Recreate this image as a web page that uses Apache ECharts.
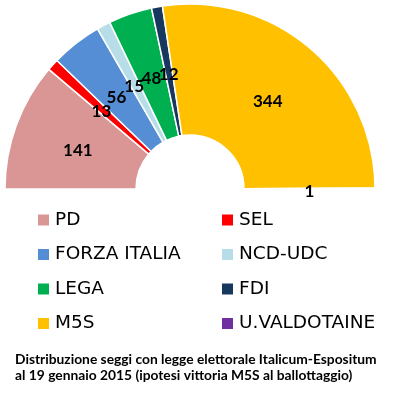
<!DOCTYPE html>
<html><head><meta charset="utf-8">
<script src="https://cdn.jsdelivr.net/npm/echarts@6/dist/echarts.min.js"></script>
<style>html,body{margin:0;padding:0;background:#fff}#c{width:402px;height:398px}</style>
</head><body><div id="c"></div>
<script>
var parties = ['PD','SEL','FORZA ITALIA','NCD-UDC','LEGA','FDI','M5S','U.VALDOTAINE'];
var seats = [141,13,56,15,48,12,344,1];
var colors = ['#D99694','#FF0000','#558ED5','#B7DEE8','#00B050','#17375E','#FFC000','#7030A0'];
var legendLeft = ['PD','FORZA ITALIA','LEGA','M5S'];
var legendRight = ['SEL','NCD-UDC','FDI','U.VALDOTAINE'];
var titleText = 'Distribuzione seggi con legge elettorale Italicum-Espositum\nal 19 gennaio 2015 (ipotesi vittoria M5S al ballottaggio)';

var total = seats.reduce(function(a,b){return a+b;},0);
var labelPts = [], acc = 0;
seats.forEach(function(v){ labelPts.push([0.5, acc + v/2, v]); acc += v; });

var chart = echarts.init(document.getElementById('c'), null, {renderer:'canvas'});
var legendText = {fontFamily:'DejaVu Sans', fontSize:18.5, color:'#000', lineHeight:20};
chart.setOption({
  animation:false,
  color: colors,
  title: {
    text: titleText, left: 10, top: 347,
    textStyle: {fontFamily:'Lato', fontWeight:'bold', fontSize:13.8, color:'#000', lineHeight:16}
  },
  legend: [
    {data: legendLeft, orient:'vertical', left: 31, top: 205, icon:'rect', itemWidth:13, itemHeight:13, itemGap:14.5, textStyle: legendText, selectedMode:false},
    {data: legendRight, orient:'vertical', left: 215, top: 205, icon:'rect', itemWidth:13, itemHeight:13, itemGap:14.5, textStyle: legendText, selectedMode:false}
  ],
  polar: {center:[190,189], radius:[54,185]},
  angleAxis: {type:'value', min:0, max: total*2, startAngle:180, clockwise:true, show:false},
  radiusAxis: {type:'value', min:0, max:1, show:false},
  series: [{
    type:'pie',
    center:[190,189],
    radius:[54,185],
    startAngle:180,
    endAngle:0,
    clockwise:true,
    silent:true,
    itemStyle:{borderColor:'#fff', borderWidth:1.5},
    label:{show:false},
    labelLine:{show:false},
    data: parties.map(function(p,i){return {name:p, value:seats[i]};})
  },{
    type:'scatter',
    coordinateSystem:'polar',
    silent:true,
    symbolSize:0,
    itemStyle:{color:'#000', opacity:0},
    data: labelPts,
    label:{show:true, position:'inside', offset:[0,3], formatter:function(p){return p.value[2];}, color:'#000', textBorderWidth:0, textBorderColor:'transparent', opacity:1, fontFamily:'Lato', fontWeight:'bold', fontSize:17},
    z:10
  }]
});
</script></body></html>
